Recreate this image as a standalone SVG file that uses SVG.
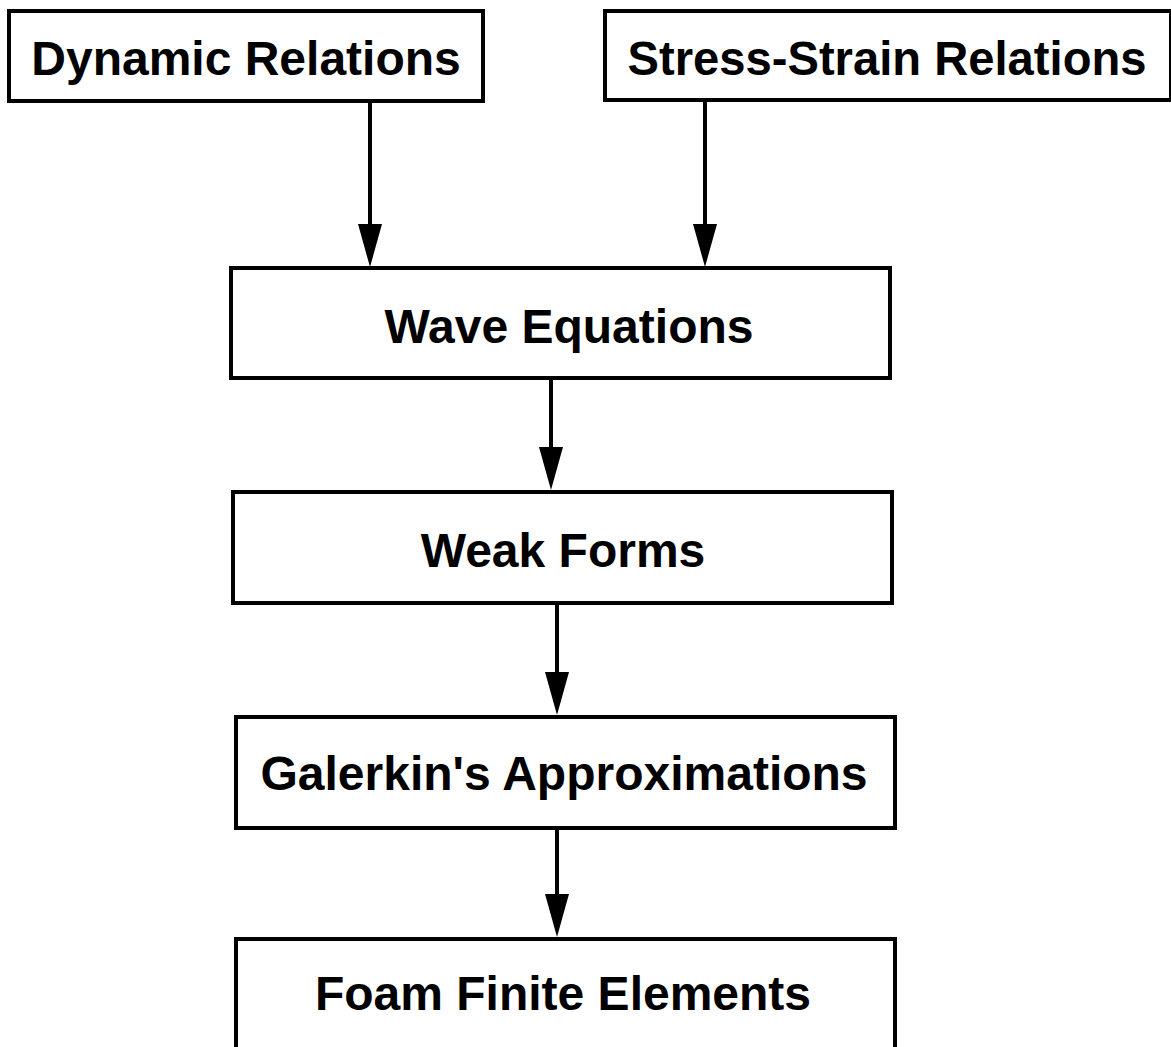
<svg xmlns="http://www.w3.org/2000/svg" width="1171" height="1047" viewBox="0 0 1171 1047">
<style>
.box{fill:#fff;stroke:#000;stroke-width:4}
.lbl{font-family:"Liberation Sans",Arial,sans-serif;font-weight:bold;font-size:48px;fill:#000;text-anchor:middle}
.edge{stroke:#000;stroke-width:4;fill:none;marker-end:url(#ah)}
</style>
<defs>
<marker id="ah" markerUnits="userSpaceOnUse" markerWidth="43" markerHeight="24" refX="1" refY="12" orient="auto" viewBox="0 0 43 24">
<path d="M0,0 L43,12 L0,24 Z" fill="#000"/>
</marker>
</defs>
<rect width="1171" height="1047" fill="#fff"/>
<g id="connectors">
<line class="edge" x1="370" y1="101" x2="370" y2="225"/>
<line class="edge" x1="705" y1="101" x2="705" y2="225"/>
<line class="edge" x1="551" y1="378" x2="551" y2="448"/>
<line class="edge" x1="557" y1="603" x2="557" y2="673"/>
<line class="edge" x1="557" y1="828" x2="557" y2="895"/>
</g>
<g id="n1"><rect class="box" x="9" y="11" width="474" height="90"/><text class="lbl" x="246" y="75">Dynamic Relations</text></g>
<g id="n2"><rect class="box" x="605" y="11" width="566" height="89"/><text class="lbl" x="887" y="75" textLength="519" lengthAdjust="spacingAndGlyphs">Stress-Strain Relations</text></g>
<g id="n3"><rect class="box" x="231" y="268" width="659" height="110"/><text class="lbl" x="569" y="343">Wave Equations</text></g>
<g id="n4"><rect class="box" x="233" y="492" width="659" height="111"/><text class="lbl" x="563" y="567">Weak Forms</text></g>
<g id="n5"><rect class="box" x="236" y="717" width="659" height="111"/><text class="lbl" x="564" y="790">Galerkin's Approximations</text></g>
<g id="n6"><rect class="box" x="236" y="939" width="659" height="110"/><text class="lbl" x="563" y="1010">Foam Finite Elements</text></g>
</svg>
